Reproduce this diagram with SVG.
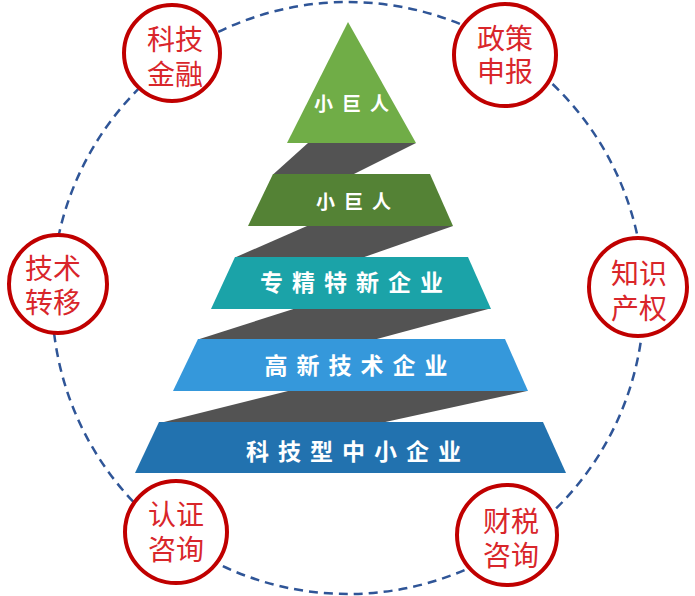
<svg xmlns="http://www.w3.org/2000/svg" width="695" height="596" viewBox="0 0 695 596">
<style>
.ring{fill:none;stroke:#2F5597;stroke-width:2.5;stroke-dasharray:9 6}
.band{fill:#535353}
.badge{fill:#fff;stroke:#C00000;stroke-width:4}
.bt{font-family:"Noto Sans CJK SC","Noto Sans",sans-serif;font-size:28px;fill:#D9262B;text-anchor:middle}
.tt{font-family:"Noto Sans CJK SC","Noto Sans",sans-serif;font-weight:700;fill:#fff;text-anchor:middle}
.s1{font-size:19px;letter-spacing:9px}
.s2{font-size:23px;letter-spacing:9px}
</style>
<rect width="695" height="596" fill="#fff"/>
<g id="connectors">
<circle class="ring" cx="348" cy="298" r="296"/>
<polygon class="band" points="308,143 416,143 353,174.5 273,174.5"/>
<polygon class="band" points="307,226 453,226 363,257.5 235,257.5"/>
<polygon class="band" points="295,308.5 490,308.5 375,339.5 198,339.5"/>
<polygon class="band" points="288,391 527,391 383,422.5 162,422.5"/>
</g>
<g id="tier1">
<polygon points="348,22 416,143 287,143" fill="#70AD47"/>
<text class="tt s1" x="356" y="111">小巨人</text>
</g>
<g id="tier2">
<polygon points="273,174 430,174 453,226 248,226" fill="#548235"/>
<text class="tt s1" x="358" y="209">小巨人</text>
</g>
<g id="tier3">
<polygon points="235,257 468,257 491,309 211,309" fill="#1BA3A8"/>
<text class="tt s2" x="356" y="291">专精特新企业</text>
</g>
<g id="tier4">
<polygon points="198,339 505,339 528,391 173,391" fill="#3598DB"/>
<text class="tt s2" x="360.5" y="374">高新技术企业</text>
</g>
<g id="tier5">
<polygon points="159,422 543,422 566,473 135,473" fill="#2272AF"/>
<text class="tt s2" x="358" y="460">科技型中小企业</text>
</g>
<g id="b1">
<circle class="badge" cx="172" cy="53" r="48"/>
<text class="bt" x="175" y="50">科技</text>
<text class="bt" x="175" y="85">金融</text>
</g>
<g id="b2">
<circle class="badge" cx="505" cy="55" r="51"/>
<text class="bt" x="505" y="49">政策</text>
<text class="bt" x="505" y="82">申报</text>
</g>
<g id="b3">
<circle class="badge" cx="58" cy="284" r="49"/>
<text class="bt" x="53" y="279">技术</text>
<text class="bt" x="53" y="313">转移</text>
</g>
<g id="b4">
<circle class="badge" cx="638" cy="287" r="49"/>
<text class="bt" x="639" y="284">知识</text>
<text class="bt" x="639" y="319">产权</text>
</g>
<g id="b5">
<circle class="badge" cx="176" cy="532" r="51"/>
<text class="bt" x="176" y="525">认证</text>
<text class="bt" x="176" y="560">咨询</text>
</g>
<g id="b6">
<circle class="badge" cx="507" cy="535" r="50"/>
<text class="bt" x="511" y="532">财税</text>
<text class="bt" x="511" y="566">咨询</text>
</g>
</svg>
